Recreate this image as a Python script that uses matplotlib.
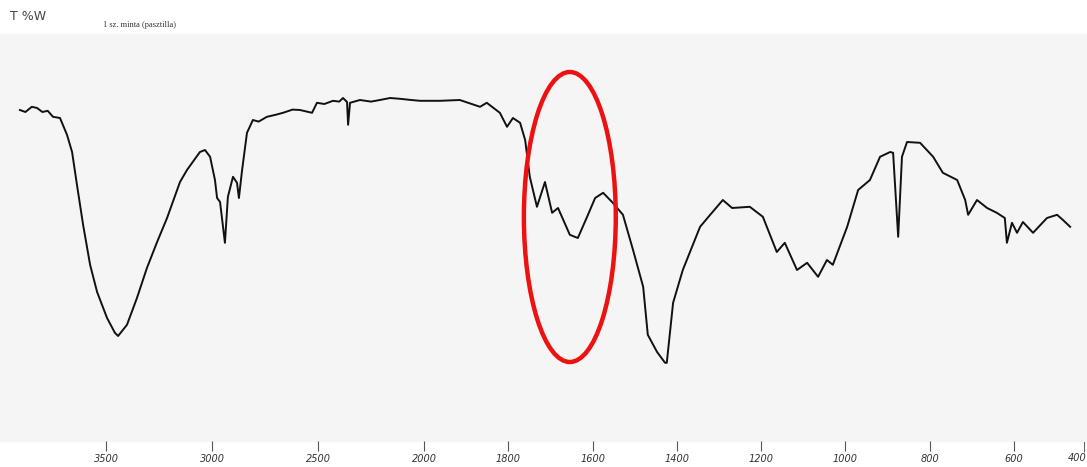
import numpy as np
import matplotlib
matplotlib.use("Agg")
import matplotlib.pyplot as plt
import matplotlib.patches as patches

wavenumber = [3906, 3880, 3850, 3825, 3800, 3775, 3750, 3717, 3684, 3660,
              3637, 3608, 3575, 3542, 3495, 3458, 3443, 3401, 3354, 3307,
              3259, 3212, 3151, 3118, 3057, 3033, 3009, 2986, 2976, 2962,
              2939, 2925, 2901, 2882, 2873, 2858, 2835, 2807, 2780, 2741,
              2700, 2665, 2620, 2585, 2528, 2505, 2470, 2429, 2400, 2382,
              2363, 2358, 2349, 2302, 2250, 2208, 2160, 2113, 2060, 2019,
              1962, 1915, 1867, 1851, 1820, 1803, 1789, 1772, 1760, 1749,
              1732, 1713, 1696, 1682, 1654, 1635, 1613, 1594, 1575, 1552,
              1528, 1504, 1480, 1469, 1447, 1428, 1424, 1409, 1386, 1345,
              1321, 1291, 1269, 1227, 1196, 1163, 1144, 1115, 1091, 1065,
              1044, 1030, 996, 970, 942, 918, 894, 887, 875, 866,
              854, 823, 792, 769, 735, 716, 709, 688, 664, 641,
              622, 617, 605, 593, 579, 555, 522, 498, 484, 467]
transmittance = [82.5, 82.0, 83.3, 83.0, 82.0, 82.3, 80.8, 80.5, 76.3, 72.0,
                 63.8, 53.8, 43.8, 37.0, 30.5, 26.8, 26.0, 28.8, 35.5, 43.0,
                 49.5, 55.5, 64.5, 67.5, 72.0, 72.5, 70.8, 65.0, 60.5, 59.5,
                 49.3, 60.8, 65.8, 64.3, 60.5, 67.5, 76.8, 80.0, 79.6, 80.8,
                 81.3, 81.8, 82.6, 82.5, 81.8, 84.3, 84.0, 84.8, 84.6, 85.5,
                 84.5, 78.8, 84.3, 85.0, 84.6, 85.0, 85.5, 85.3, 85.0, 84.8,
                 84.8, 85.0, 83.3, 84.3, 81.8, 78.3, 80.5, 79.3, 75.0, 65.8,
                 58.3, 64.5, 56.8, 58.0, 51.3, 50.5, 55.8, 60.5, 61.8, 59.3,
                 56.3, 47.5, 38.3, 26.3, 22.0, 19.3, 19.3, 34.3, 42.5, 53.3,
                 56.3, 60.0, 58.0, 58.3, 55.8, 47.0, 49.3, 42.5, 44.3, 40.8,
                 45.0, 43.8, 53.3, 62.5, 65.0, 70.8, 72.0, 71.8, 50.8, 70.8,
                 74.5, 74.3, 70.8, 66.8, 65.0, 60.0, 56.3, 60.0, 58.0, 56.8,
                 55.5, 49.3, 54.3, 51.8, 54.5, 51.8, 55.5, 56.3, 55.0, 53.3]

tick_values = [3500, 3000, 2500, 2000, 1800, 1600, 1400, 1200, 1000, 800, 600]
tick_labels = ["3500", "3000", "2500", "2000", "1800", "1600", "1400",
               "1200", "1000", "800", "600"]


# chart paper: 4000-2000 compressed, 2000-400 expanded
def fwd(w):
    w = np.asarray(w, dtype=float)
    return np.where(w >= 2000, (4000 - w) * 0.212, 424 + (2000 - w) * 0.4215)


def inv(x):
    x = np.asarray(x, dtype=float)
    return np.where(x <= 424, 4000 - x / 0.212, 2000 - (x - 424) / 0.4215)


fig = plt.figure(figsize=(10.87, 4.67), dpi=100, facecolor="white")
ax = fig.add_axes([0, 0, 1, 1])
ax.set_xscale("function", functions=(fwd, inv))
ax.set_xlim(427, 4000)
ax.set_ylim(-6.75, 110)
ax.set_facecolor("white")

# greyish paper area
ax.axhspan(-0.2, 101.5, color="#f5f5f5", zorder=0)

ax.plot(wavenumber, transmittance, color="#111111", lw=1.4, zorder=3)

# highlighted region
ax.add_patch(patches.Ellipse((1654, 55.75), 218, 72.5, fill=False,
                             edgecolor="#ee1111", lw=3.2, zorder=4))

for s in ax.spines.values():
    s.set_visible(False)
ax.spines["bottom"].set_position(("data", -0.25))
ax.set_xticks(tick_values)
ax.set_xticklabels(tick_labels, fontsize=7, color="#333333", style="italic")
ax.tick_params(axis="x", direction="out", length=7, width=0.8,
               color="#555555", pad=2)
ax.set_yticks([])
ax.text(429, -0.25, "|\n400", transform=ax.transData, fontsize=7,
        color="#333333", style="italic", ha="right", va="top",
        clip_on=False)

fig.text(0.009, 0.958, "T %W", fontsize=9, color="#444444")
fig.text(0.095, 0.942, "1 sz. minta (pasztilla)", fontsize=6,
         family="Liberation Serif", color="#333333")

fig.savefig("out.png", dpi=100)
